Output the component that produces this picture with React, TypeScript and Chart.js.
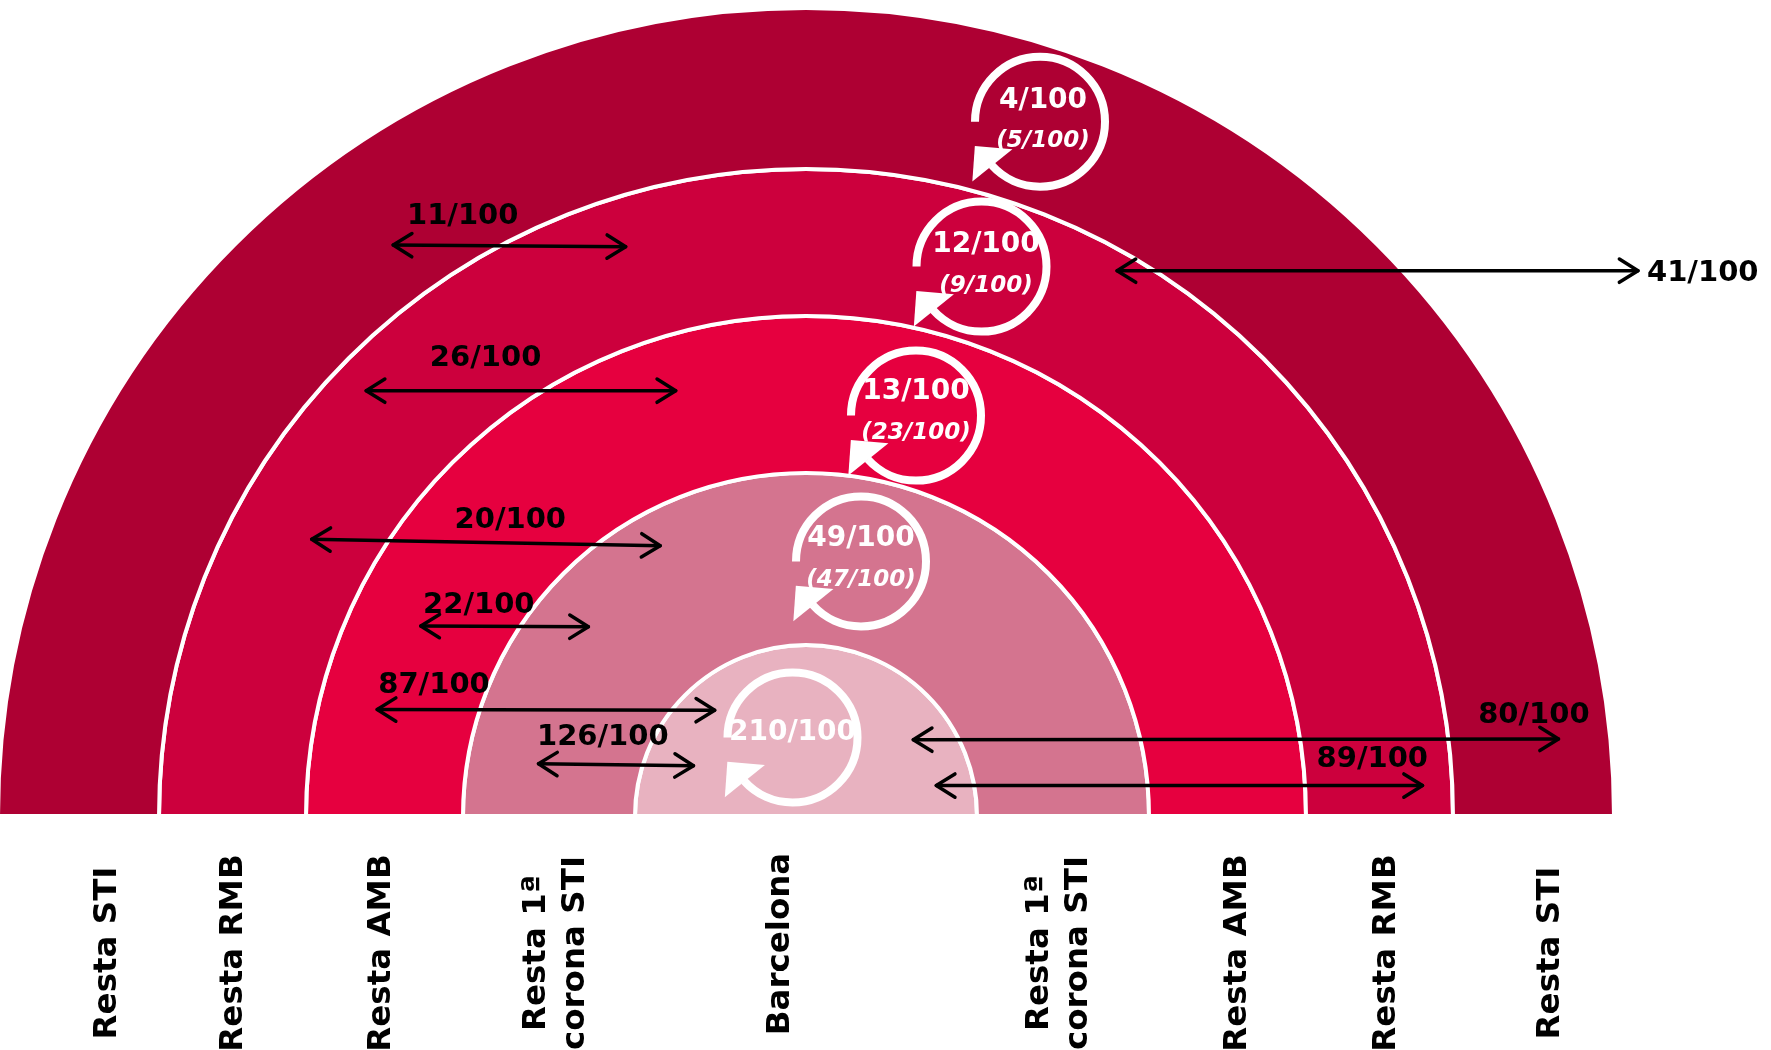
import { useEffect, useRef } from 'react';
import { Chart, registerables } from 'chart.js';

Chart.register(...registerables);

// ---------- data (rings listed from outer to inner) ----------
const zones = ['Resta STI', 'Resta RMB', 'Resta AMB', 'Resta 1ª corona STI', 'Barcelona'];
const zoneLines = [['Resta STI'], ['Resta RMB'], ['Resta AMB'], ['Resta 1ª', 'corona STI'], ['Barcelona']];
const ringWeights = [161, 147, 157, 172, 171];
const ringColors = ['#AE0033', '#CC003D', '#E6003F', '#D4748F', '#E8B2C0'];

// internal mobility within each ring (current and, in brackets, previous)
const internalFlows = ['4/100', '12/100', '13/100', '49/100', '210/100'];
const internalFlowsPrev = ['(5/100)', '(9/100)', '(23/100)', '(47/100)', ''];

// exchanges between rings
const exchangeLabels = ['11/100', '26/100', '20/100', '22/100', '87/100', '126/100', '41/100', '80/100', '89/100'];

// ---------- layout (offsets from the centre, in units where outer radius = REF) ----------
const REF = 808;
const exchangeLayout: { a: number[]; b: number[]; t: number[]; align: CanvasTextAlign }[] = [
  { a: [-412.8, -571], b: [-180.3, -569.3], t: [-343.3, -599.3], align: 'center' },
  { a: [-439.8, -425.3], b: [-130.3, -425.3], t: [-320.4, -457.7], align: 'center' },
  { a: [-494.3, -276.8], b: [-145.8, -270.3], t: [-295.7, -295.2], align: 'center' },
  { a: [-385.2, -190], b: [-217.6, -189.2], t: [-327.2, -211], align: 'center' },
  { a: [-428.8, -106.5], b: [-91.3, -105.8], t: [-372, -130.6], align: 'center' },
  { a: [-267.5, -52.2], b: [-112.5, -50.3], t: [-203.2, -79], align: 'center' },
  { a: [311.1, -545.3], b: [832, -545.3], t: [841, -542.7], align: 'left' },
  { a: [107.3, -76.3], b: [752.5, -77.1], t: [727.9, -100.4], align: 'center' },
  { a: [130.3, -30.4], b: [616.5, -30.4], t: [566.3, -57], align: 'center' },
];
const cycleLayout = [
  { c: [234, -694.3], m: [3, -21], p: [3, 19.5] },
  { c: [175.5, -549.4], m: [4.5, -21.6], p: [4.5, 19] },
  { c: [110, -400.4], m: [0, -23.6], p: [0, 17] },
  { c: [55, -254.6], m: [0, -22.6], p: [0, 19] },
  { c: [-13.5, -78.5], m: [0, -5], p: [0, 0] },
];
const leftLabelNudge = [29.5, 1, -2.5, 6.8, -25.5];
const rightLabelNudge = [17.3, 7.5, 10.5, -4];
const LABEL_DY = 137;
const BARCELONA_DY = 128;

function dblArrow(ctx: CanvasRenderingContext2D, x1: number, y1: number, x2: number, y2: number, head: number, lw: number) {
  ctx.save();
  ctx.strokeStyle = '#000';
  ctx.lineWidth = lw;
  ctx.lineCap = 'round';
  ctx.lineJoin = 'round';
  ctx.beginPath();
  ctx.moveTo(x1, y1);
  ctx.lineTo(x2, y2);
  ctx.stroke();
  const ang = Math.atan2(y2 - y1, x2 - x1);
  const ha = (32 * Math.PI) / 180;
  const ends: [number, number, number][] = [
    [x2, y2, ang],
    [x1, y1, ang + Math.PI],
  ];
  for (const [x, y, a] of ends) {
    ctx.beginPath();
    ctx.moveTo(x - head * Math.cos(a - ha), y - head * Math.sin(a - ha));
    ctx.lineTo(x, y);
    ctx.lineTo(x - head * Math.cos(a + ha), y - head * Math.sin(a + ha));
    ctx.stroke();
  }
  ctx.restore();
}

function cycleArrow(ctx: CanvasRenderingContext2D, x: number, y: number, r: number, lw: number) {
  const d = Math.PI / 180;
  ctx.save();
  ctx.strokeStyle = '#fff';
  ctx.fillStyle = '#fff';
  ctx.lineWidth = lw;
  ctx.lineCap = 'butt';
  ctx.beginPath();
  ctx.arc(x, y, r, 180 * d, 498 * d, false);
  ctx.stroke();
  const pt = (rf: number, deg: number) => [x + rf * r * Math.cos(deg * d), y + rf * r * Math.sin(deg * d)];
  const A = pt(1.07, 159.5);
  const B = pt(0.6, 135);
  const T = pt(1.39, 138.5);
  ctx.beginPath();
  ctx.moveTo(A[0], A[1]);
  ctx.lineTo(B[0], B[1]);
  ctx.lineTo(T[0], T[1]);
  ctx.closePath();
  ctx.fill();
  ctx.restore();
}

const overlay = {
  id: 'overlay',
  afterDatasetsDraw(chart: any) {
    const ctx: CanvasRenderingContext2D = chart.ctx;
    const outer = chart.getDatasetMeta(0).data[0];
    const cx = outer.x;
    const cy = outer.y;
    const s = outer.outerRadius / REF;
    const P = (p: number[]) => [cx + p[0] * s, cy + p[1] * s];

    // cycles (internal mobility)
    cycleLayout.forEach((l, i) => {
      const [x, y] = P(l.c);
      cycleArrow(ctx, x, y, 65 * s, 8 * s);
      ctx.save();
      ctx.fillStyle = '#fff';
      ctx.textAlign = 'center';
      ctx.textBaseline = 'middle';
      ctx.font = `bold ${28 * s}px "DejaVu Sans"`;
      ctx.fillText(internalFlows[i], x + l.m[0] * s, y + l.m[1] * s);
      if (internalFlowsPrev[i]) {
        ctx.font = `italic bold ${23 * s}px "DejaVu Sans"`;
        ctx.fillText(internalFlowsPrev[i], x + l.p[0] * s, y + l.p[1] * s);
      }
      ctx.restore();
    });

    // exchanges between rings
    exchangeLayout.forEach((l, i) => {
      const [x1, y1] = P(l.a);
      const [x2, y2] = P(l.b);
      dblArrow(ctx, x1, y1, x2, y2, 22 * s, 3.5 * s);
      const [tx, ty] = P(l.t);
      ctx.save();
      ctx.fillStyle = '#000';
      ctx.textAlign = l.align;
      ctx.textBaseline = 'middle';
      ctx.font = `bold ${29 * s}px "DejaVu Sans"`;
      ctx.fillText(exchangeLabels[i], tx, ty);
      ctx.restore();
    });

    // zone labels under the baseline (rotated)
    const drawLabel = (lines: string[], x: number, y: number) => {
      ctx.save();
      ctx.translate(x, y);
      ctx.rotate(-Math.PI / 2);
      ctx.fillStyle = '#000';
      ctx.textAlign = 'center';
      ctx.textBaseline = 'middle';
      ctx.font = `bold ${32.5 * s}px "DejaVu Sans"`;
      const lh = 39 * s;
      lines.forEach((ln, k) => {
        ctx.fillText(ln, 0, (k - (lines.length - 1) / 2) * lh);
      });
      ctx.restore();
    };
    const n = zones.length;
    for (let i = 0; i < n; i++) {
      const arc = chart.getDatasetMeta(i).data[0];
      const mid = (arc.innerRadius + arc.outerRadius) / 2;
      if (i === n - 1) {
        drawLabel(zoneLines[i], cx + leftLabelNudge[i] * s, cy + BARCELONA_DY * s);
      } else {
        drawLabel(zoneLines[i], cx - mid + leftLabelNudge[i] * s, cy + LABEL_DY * s);
        drawLabel(zoneLines[i], cx + mid + rightLabelNudge[i] * s, cy + LABEL_DY * s);
      }
    }
  },
};

export default function App() {
  const ref = useRef<HTMLCanvasElement>(null);
  useEffect(() => {
    if (!ref.current) return;
    const chart = new Chart(ref.current, {
      type: 'doughnut',
      data: {
        labels: ['zona'],
        datasets: zones.map((z, i) => ({
          label: z,
          data: [1],
          backgroundColor: ringColors[i],
          borderColor: '#ffffff',
          borderWidth: 4,
          weight: ringWeights[i],
        })),
      } as any,
      options: {
        responsive: false,
        animation: false,
        cutout: 0,
        rotation: -90,
        circumference: 180,
        radius: REF,
        events: [],
        layout: { padding: { left: 0, right: 159, top: 8, bottom: 234 } },
        plugins: { legend: { display: false }, tooltip: { enabled: false } },
      } as any,
      plugins: [overlay],
    });
    return () => chart.destroy();
  }, []);
  return (
    <div style={{ position: 'fixed', left: 0, top: 0, width: 1771, height: 1050, background: '#fff' }}>
      <canvas ref={ref} width={1771} height={1050} style={{ display: 'block', width: 1771, height: 1050 }} />
    </div>
  );
}
